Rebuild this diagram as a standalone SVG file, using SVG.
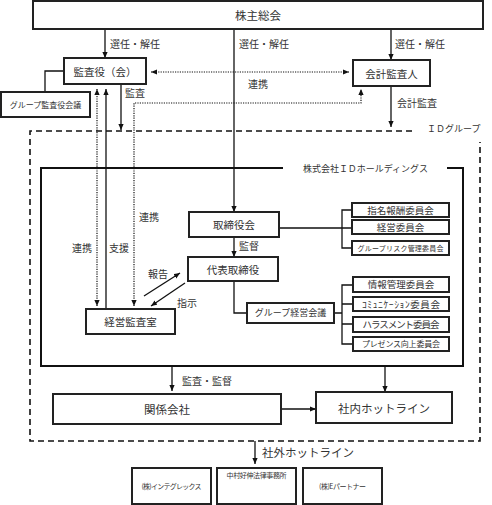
<svg xmlns="http://www.w3.org/2000/svg" width="492" height="505" viewBox="0 0 492 505">
<style>
text{font-family:"Noto Sans CJK JP","Noto Sans",sans-serif;fill:#333;dominant-baseline:central}
.c{text-anchor:middle}
.box{fill:#fff;stroke:#222;stroke-width:2}
.ln{fill:none;stroke:#111;stroke-width:1.3}
.dot{fill:none;stroke:#111;stroke-width:1.2;stroke-dasharray:1.2 1.2}
.dash{fill:none;stroke:#111;stroke-width:1.6;stroke-dasharray:6 4}
.f11{font-size:11.5px}.f10{font-size:10px}.f95{font-size:9.5px}.f9{font-size:9px}.f8{font-size:8px}.f7{font-size:7px}
</style>
<defs>
<marker id="ah" markerUnits="userSpaceOnUse" markerWidth="6" markerHeight="6" refX="6" refY="3" orient="auto-start-reverse"><path d="M0,0.4 L6,3 L0,5.6 z" fill="#111"/></marker>
</defs>
<rect width="492" height="505" fill="#fff"/>
<g id="connectors">
<line class="ln" x1="105" y1="29" x2="105" y2="58" marker-end="url(#ah)"/>
<line class="ln" x1="234" y1="29" x2="234" y2="212" marker-end="url(#ah)"/>
<line class="ln" x1="391" y1="29" x2="391" y2="60" marker-end="url(#ah)"/>
<path class="ln" d="M64,71 H45 V92"/>
<line class="dot" x1="151" y1="72" x2="349" y2="72" marker-start="url(#ah)" marker-end="url(#ah)"/>
<line class="ln" x1="121" y1="84" x2="121" y2="130" marker-end="url(#ah)"/>
<line class="ln" x1="391" y1="86" x2="391" y2="127" marker-end="url(#ah)"/>
<path class="dot" d="M134,306 V103 H361 V89" marker-start="url(#ah)" marker-end="url(#ah)"/>
<line class="dot" x1="97" y1="306" x2="97" y2="89" marker-start="url(#ah)" marker-end="url(#ah)"/>
<line class="ln" x1="106" y1="309" x2="106" y2="89" marker-end="url(#ah)"/>
<path class="dash" d="M412,131 H30 V441 H480 V142"/>
<path class="ln" style="stroke-width:2" d="M283,168 H41 V366 H463 V168 H447"/>
<line class="ln" x1="234" y1="237" x2="234" y2="257" marker-end="url(#ah)"/>
<path class="ln" d="M279,228 H352 M352,210 H342 V248 H352"/>
<path class="ln" d="M234,281 V313 H247"/>
<path class="ln" d="M334,313 H342 M353,285 H342 V344 H353 M342,304 H353 M342,324 H353"/>
<line class="ln" x1="144" y1="296" x2="180" y2="273" marker-end="url(#ah)"/>
<line class="ln" x1="185" y1="283" x2="151" y2="306" marker-end="url(#ah)"/>
<line class="ln" x1="172" y1="366" x2="172" y2="391" marker-end="url(#ah)"/>
<line class="ln" x1="385" y1="366" x2="385" y2="392" marker-end="url(#ah)"/>
<line class="ln" x1="281" y1="409" x2="316" y2="409" marker-end="url(#ah)"/>
<line class="ln" x1="255" y1="441" x2="255" y2="464" marker-end="url(#ah)"/>
</g>
<g id="labels">
<text class="f10" x="110" y="43">選任・解任</text>
<text class="f10" x="239" y="43">選任・解任</text>
<text class="f10" x="395" y="43">選任・解任</text>
<text class="f10" x="248" y="83">連携</text>
<text class="f10" x="125" y="92">監査</text>
<text class="f10" x="397" y="102">会計監査</text>
<text class="f10" x="72" y="247">連携</text>
<text class="f10" x="109" y="247">支援</text>
<text class="f10" x="139" y="216">連携</text>
<text class="f9" x="427" y="128">ＩＤグループ</text>
<text class="f9" x="303" y="168" textLength="125">株式会社ＩＤホールディングス</text>
<text class="f10" x="239" y="245">監督</text>
<text class="f10" x="148" y="273">報告</text>
<text class="f10" x="177" y="302">指示</text>
<text class="f10" x="182" y="380">監査・監督</text>
<text class="f11" x="262" y="452">社外ホットライン</text>
</g>
<g id="n-kabunushi"><rect class="box" x="33" y="1" width="450" height="28"/><text class="c f11" x="258" y="15">株主総会</text></g>
<g id="n-kansayaku"><rect class="box" x="64" y="58" width="82" height="26"/><text class="c" style="font-size:10.5px" x="105" y="71">監査役（会）</text></g>
<g id="n-group-kansa"><rect class="box" x="1" y="92" width="89" height="25"/><text class="c f8" x="45.5" y="104.5">グループ監査役会議</text></g>
<g id="n-kaikei"><rect class="box" x="353" y="60" width="77" height="26"/><text class="c" style="font-size:10.5px" x="391.5" y="73">会計監査人</text></g>
<g id="n-torishimari"><rect class="box" x="189" y="212" width="90" height="25"/><text class="c" style="font-size:10.5px" x="234" y="224.5">取締役会</text></g>
<g id="n-daihyo"><rect class="box" x="188" y="257" width="90" height="24"/><text class="c" style="font-size:10.5px" x="233" y="269">代表取締役</text></g>
<g id="n-shimei"><rect class="box" x="352" y="203" width="97" height="14"/><text class="c f95" x="400.5" y="209.5">指名報酬委員会</text></g>
<g id="n-keiei-iin"><rect class="box" x="352" y="220" width="97" height="14"/><text class="c f95" x="400.5" y="226.5">経営委員会</text></g>
<g id="n-risk"><rect class="box" x="352" y="241" width="97" height="14"/><text class="c f7" x="400.5" y="247.5" textLength="86">グループリスク管理委員会</text></g>
<g id="n-group-keiei"><rect class="box" x="247" y="303" width="87" height="20"/><text class="c f9" x="290.5" y="312.5">グループ経営会議</text></g>
<g id="n-joho"><rect class="box" x="353" y="277" width="96" height="15"/><text class="c f95" x="401" y="284">情報管理委員会</text></g>
<g id="n-comm"><rect class="box" x="353" y="297" width="96" height="14"/><text class="c f95" x="401" y="303.5" textLength="78">ｺﾐｭﾆｹｰｼｮﾝ委員会</text></g>
<g id="n-harass"><rect class="box" x="353" y="317" width="96" height="15"/><text class="c f95" x="401" y="324" textLength="77">ハラスメント委員会</text></g>
<g id="n-presence"><rect class="box" x="353" y="337" width="96" height="14"/><text class="c f8" x="401" y="343.5" textLength="78">プレゼンス向上委員会</text></g>
<g id="n-keiei-kansa"><rect class="box" x="86" y="309" width="89" height="25"/><text class="c" style="font-size:10.5px" x="130.5" y="321.5">経営監査室</text></g>
<g id="n-kankei"><rect class="box" x="53" y="394" width="228" height="30"/><text class="c f11" x="167" y="409">関係会社</text></g>
<g id="n-shanai"><rect class="box" x="316" y="392" width="136" height="31"/><text class="c f11" x="384" y="407.5">社内ホットライン</text></g>
<g id="n-integrex"><rect class="box" x="132" y="468" width="79" height="36"/><text class="c f7" x="171.5" y="486" textLength="60">(株)インテグレックス</text></g>
<g id="n-nakamura"><rect class="box" x="217" y="468" width="79" height="36"/><text class="c f7" x="256.5" y="475" textLength="60">中村好伸法律事務所</text></g>
<g id="n-epartner"><rect class="box" x="303" y="468" width="79" height="36"/><text class="c f7" x="342.5" y="486" textLength="47">(株)Eパートナー</text></g>
</svg>
